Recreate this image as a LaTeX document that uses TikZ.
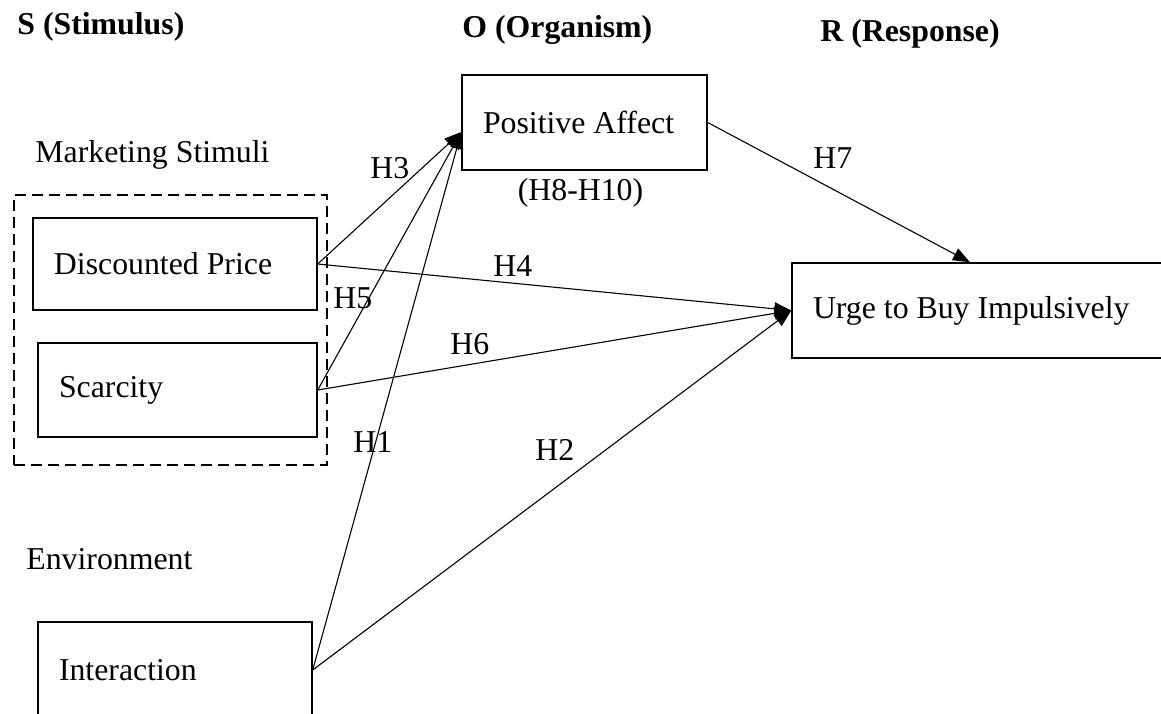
\documentclass[tikz,border=0pt]{standalone}
\usepackage{fontspec}
\setmainfont{Liberation Serif}
\usetikzlibrary{arrows.meta, calc}

\begin{document}
\begin{tikzpicture}[
  x=0.5pt, y=-0.5pt,
  txt/.style={font=\fontsize{15.9}{19}\selectfont, inner sep=0pt, anchor=base west},
  ttl/.style={txt, font=\fontsize{15.9}{19}\selectfont\bfseries},
  box/.style={draw, line width=0.7pt, font=\fontsize{15.9}{19}\selectfont,
    inner xsep=10.5pt, inner ysep=0pt, align=flush left},
  grp/.style={draw, line width=0.7pt, dash pattern=on 5.5pt off 3pt},
  arr/.style={-{Triangle[length=8.5pt, width=6.5pt]}, line width=0.55pt},
]
  \useasboundingbox (0,0) rectangle (1161,713);
  \clip (0,0) rectangle (1161,713);

  \node[ttl] (sTitle) at (17,34) {S (Stimulus)};
  \node[ttl] (oTitle) at (462,37) {O (Organism)};
  \node[ttl] (rTitle) at (820,41) {R (Response)};

  \node[txt] (mktLabel) at (35,162) {Marketing Stimuli};
  \node[txt] (envLabel) at (26,569) {Environment};

  \node[grp, minimum width=156.5pt, minimum height=135pt] (mktGroup) at (170.5,330) {};
  \node[box, minimum width=142pt, minimum height=46pt, text width=121pt] (price) at (175,264) {Discounted Price};
  \node[box, minimum width=139.5pt, minimum height=47pt, text width=118.5pt] (scarce) at (177.5,390) {Scarcity};
  \node[box, minimum width=137pt, minimum height=48pt, text width=116pt] (interact) at (175,670) {Interaction};
  \node[box, minimum width=122.5pt, minimum height=47.5pt, text width=101.5pt] (posAff) at (584.5,122.5) {Positive Affect};
  \node[box, minimum width=190pt, minimum height=47.5pt, text width=169pt] (urge) at (982,310.5) {Urge to Buy Impulsively};
  \node[txt, anchor=base] (medLabel) at (580.5,200) {(H8-H10)};

  \coordinate (posIn) at ([yshift=-4.75pt]posAff.west);
  \coordinate (urgeTop) at ([xshift=-6pt]urge.north);

  \draw[arr] (price.east) -- (posIn);
  \draw[arr] (scarce.east) -- (posIn);
  \draw[arr] (interact.east) -- (posIn);
  \draw[arr] (price.east) -- (urge.west);
  \draw[arr] (scarce.east) -- (urge.west);
  \draw[arr] (interact.east) -- (urge.west);
  \draw[arr] (posAff.east) -- (urgeTop);

  \node[txt] (h3) at (370,178) {H3};
  \node[txt] (h5) at (333,308) {H5};
  \node[txt] (h1) at (353,452) {H1};
  \node[txt] (h4) at (493,276) {H4};
  \node[txt] (h6) at (450,354) {H6};
  \node[txt] (h2) at (535,460) {H2};
  \node[txt] (h7) at (813,168) {H7};
\end{tikzpicture}
\end{document}
